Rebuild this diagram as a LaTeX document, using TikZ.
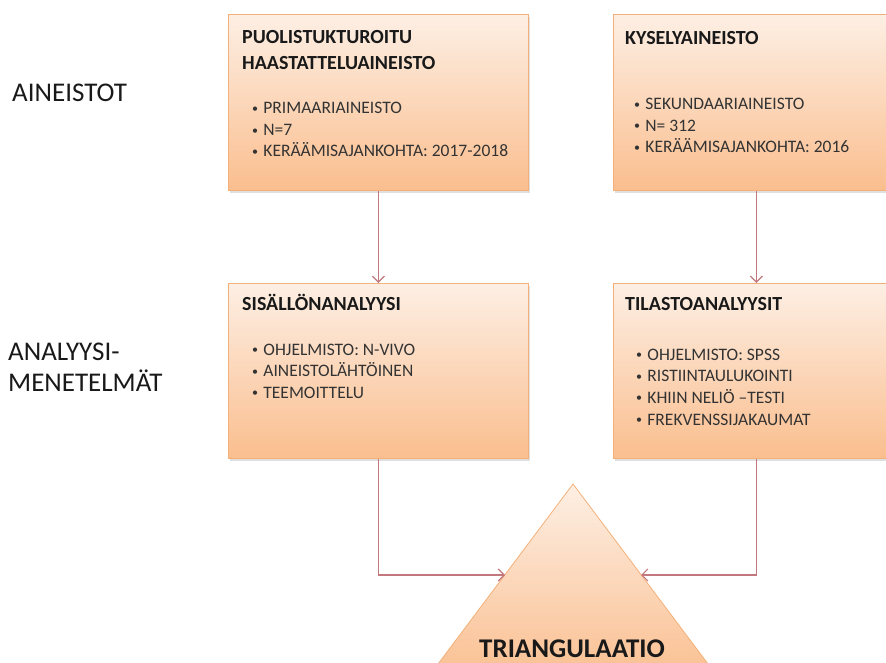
\documentclass[tikz,border=0pt]{standalone}
\usepackage{fontspec}
\setmainfont{Carlito}
\usetikzlibrary{arrows.meta,shadows,positioning,calc}
\definecolor{boxtop}{RGB}{253,239,228}
\definecolor{boxbottom}{RGB}{250,190,142}
\definecolor{boxline}{RGB}{244,176,120}
\definecolor{linkred}{RGB}{194,120,124}
\newcommand\itemdot{{\fontsize{12}{12}\selectfont\raisebox{0.25ex}{\textbullet}}\hspace{0.3em}}
\tikzset{
  stagebox/.style={draw=boxline,line width=0.8pt,top color=boxtop,bottom color=boxbottom,
    anchor=north west,inner sep=0pt,
    drop shadow={shadow xshift=1.5pt,shadow yshift=-2.5pt,opacity=0.25}},
  boxtitle/.style={anchor=base west,inner sep=0pt,font=\fontsize{20}{24}\selectfont\bfseries,text=black!90},
  boxitem/.style={anchor=base west,inner sep=0pt,font=\fontsize{17.5}{21}\selectfont,text=black!80},
  rowlabel/.style={anchor=base west,inner sep=0pt,font=\fontsize{27}{32}\selectfont,text=black!90},
  link/.style={draw=linkred,line width=1.2pt,-{Straight Barb[length=6pt,width=12pt]}},
}

\begin{document}
\begin{tikzpicture}[x=1pt,y=-1pt]
    \useasboundingbox (0,0) rectangle (886,663);
    \clip (0,0) rectangle (886,663);
    % boxes
    \node[stagebox,minimum width=300,minimum height=176] (haast) at (228,14) {};
    \node[stagebox,minimum width=286,minimum height=176] (kysely) at (613,14) {};
    \node[stagebox,minimum width=300,minimum height=175] (sisalto) at (228,283) {};
    \node[stagebox,minimum width=286,minimum height=175] (tilasto) at (613,283) {};
    % triangle
    \coordinate (apex) at (573,484);
    \coordinate (triL) at ($(apex)+(-68,91)$);
    \coordinate (triR) at ($(apex)+(68,91)$);
    \draw[draw=boxline,line width=0.8pt,top color=boxtop,bottom color=boxbottom]
        (apex) -- ++(-150,200) -- ++(300,0) -- cycle;
    \node[boxtitle,anchor=base,font=\fontsize{27}{32}\selectfont\bfseries] (trilabel) at (572,657) {TRIANGULAATIO};
    % row labels
    \node[rowlabel] (aineistot) at (12,101.7) {AINEISTOT};
    \node[rowlabel] (analyysi) at (8,360) {ANALYYSI-};
    \node[rowlabel,below=31.7pt of analyysi.base west,anchor=base west] (menetelmat) {MENETELMÄT};
    % box titles
    \node[boxtitle] (haasttitle) at (242,43.3) {PUOLISTUKTUROITU};
    \node[boxtitle,below=26pt of haasttitle.base west,anchor=base west] (haasttitleb) {HAASTATTELUAINEISTO};
    \node[boxtitle] (kyselytitle) at (625,44.3) {KYSELYAINEISTO};
    \node[boxtitle] (sisaltotitle) at (242,310) {SISÄLLÖNANALYYSI};
    \node[boxtitle] (tilastotitle) at (625,310) {TILASTOANALYYSIT};
    % bullet items
    \foreach \t [count=\i] in {PRIMAARIAINEISTO,N=7,KERÄÄMISAJANKOHTA: 2017-2018}
        \node[boxitem] (haast\i) at (252,{114+21.5*(\i-1)}) {\itemdot\t};
    \foreach \t [count=\i] in {SEKUNDAARIAINEISTO,N= 312,KERÄÄMISAJANKOHTA: 2016}
        \node[boxitem] (kysely\i) at (634,{110+21.3*(\i-1)}) {\itemdot\t};
    \foreach \t [count=\i] in {OHJELMISTO: N-VIVO,AINEISTOLÄHTÖINEN,TEEMOITTELU}
        \node[boxitem] (sisalto\i) at (252,{355+21.7*(\i-1)}) {\itemdot\t};
    \foreach \t [count=\i] in {OHJELMISTO: SPSS,RISTIINTAULUKOINTI,KHIIN NELIÖ –TESTI,FREKVENSSIJAKAUMAT}
        \node[boxitem] (tilasto\i) at (636,{360+21.7*(\i-1)}) {\itemdot\t};
    % connectors
    \draw[link] (haast.south) -- (sisalto.north);
    \draw[link] (kysely.south) -- (tilasto.north);
    \draw[link] (sisalto.south) |- (triL);
    \draw[link] (tilasto.south) |- (triR);
\end{tikzpicture}
\end{document}
